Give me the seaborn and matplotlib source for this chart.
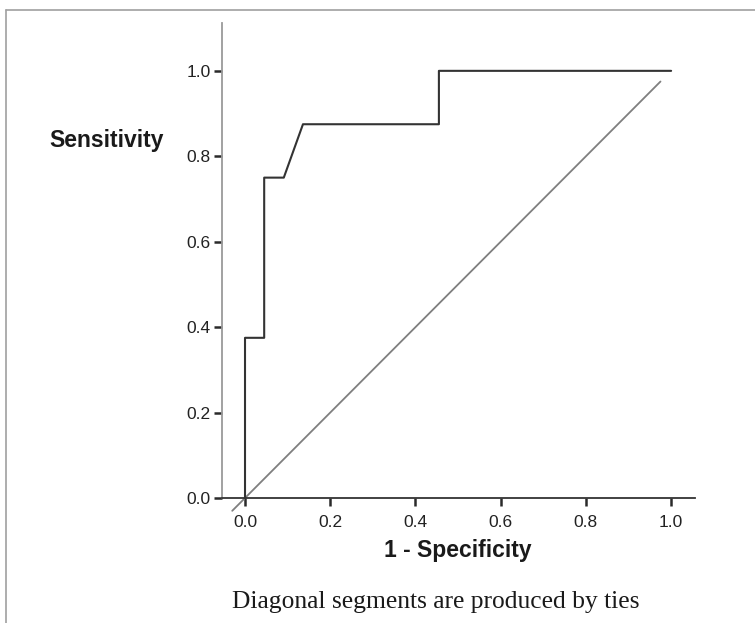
import matplotlib
matplotlib.use("Agg")
import matplotlib.pyplot as plt
import seaborn as sns
import pandas as pd
from matplotlib.lines import Line2D

# ROC curve data (1 - specificity, sensitivity)
roc_fpr = [0.0, 0.0, 0.045, 0.045, 0.091, 0.136, 0.455, 0.455, 1.0]
roc_tpr = [0.0, 0.375, 0.375, 0.75, 0.75, 0.875, 0.875, 1.0, 1.0]
# reference diagonal
diag_x = [-0.03, 0.975]
diag_y = [-0.03, 0.975]
tick_vals = [0.0, 0.2, 0.4, 0.6, 0.8, 1.0]
tick_labels = ["0.0", "0.2", "0.4", "0.6", "0.8", "1.0"]

sns.set_theme(style="white")
plt.rcParams['font.family'] = ['Liberation Sans', 'DejaVu Sans']

fig = plt.figure(figsize=(7.55, 6.23), dpi=100)
ax = fig.add_axes([222/755, 1 - 498/623, (695 - 222)/755, (498 - 23)/623])

roc_df = pd.DataFrame({"fpr": roc_fpr, "tpr": roc_tpr})
diag_df = pd.DataFrame({"x": diag_x, "y": diag_y})

sns.lineplot(data=diag_df, x="x", y="y", sort=False, estimator=None, ax=ax,
             color="#7f7f7f", linewidth=1.3, clip_on=False)
sns.lineplot(data=roc_df, x="fpr", y="tpr", sort=False, estimator=None, ax=ax,
             color="#333333", linewidth=1.5, clip_on=False)

ax.set_xlim(-0.054, 1.056)
ax.set_ylim(0.0, 1.112)
ax.set_xticks(tick_vals)
ax.set_xticklabels(tick_labels)
ax.set_yticks(tick_vals)
ax.set_yticklabels(tick_labels)
ax.set_xlabel("")
ax.set_ylabel("")

for s in ["top", "right"]:
    ax.spines[s].set_visible(False)
ax.spines["left"].set_color("#9a9a9a")
ax.spines["left"].set_linewidth(1.3)
ax.spines["bottom"].set_color("#333333")
ax.spines["bottom"].set_linewidth(1.3)

ax.tick_params(axis="both", which="major", direction="out", length=6, width=1.8,
               color="#2a2a2a", labelsize=12.5, labelcolor="#222222", pad=2,
               bottom=True, left=True)
ax.tick_params(axis="x", pad=6)

fig.text(107/755, 1 - 141/623, "Sensitivity", ha="center", va="center",
         fontsize=16.5, fontweight="bold", color="#1a1a1a")
fig.text(458/755, 1 - 550/623, "1 - Specificity", ha="center", va="center",
         fontsize=16.5, fontweight="bold", color="#1a1a1a")
fig.text(435.5/755, 1 - 602/623, "Diagonal segments are produced by ties",
         ha="center", va="center", fontsize=18.4, color="#1a1a1a",
         family=["Liberation Serif", "DejaVu Serif"])

# outer frame (top and left edges)
fig.add_artist(Line2D([5.5/755, 1.0], [1 - 9.5/623, 1 - 9.5/623],
                      transform=fig.transFigure, color="#a0a0a0", linewidth=1.2))
fig.add_artist(Line2D([5.5/755, 5.5/755], [1 - 9.5/623, 0.0],
                      transform=fig.transFigure, color="#a0a0a0", linewidth=1.2))

fig.savefig("out.png", dpi=100)
